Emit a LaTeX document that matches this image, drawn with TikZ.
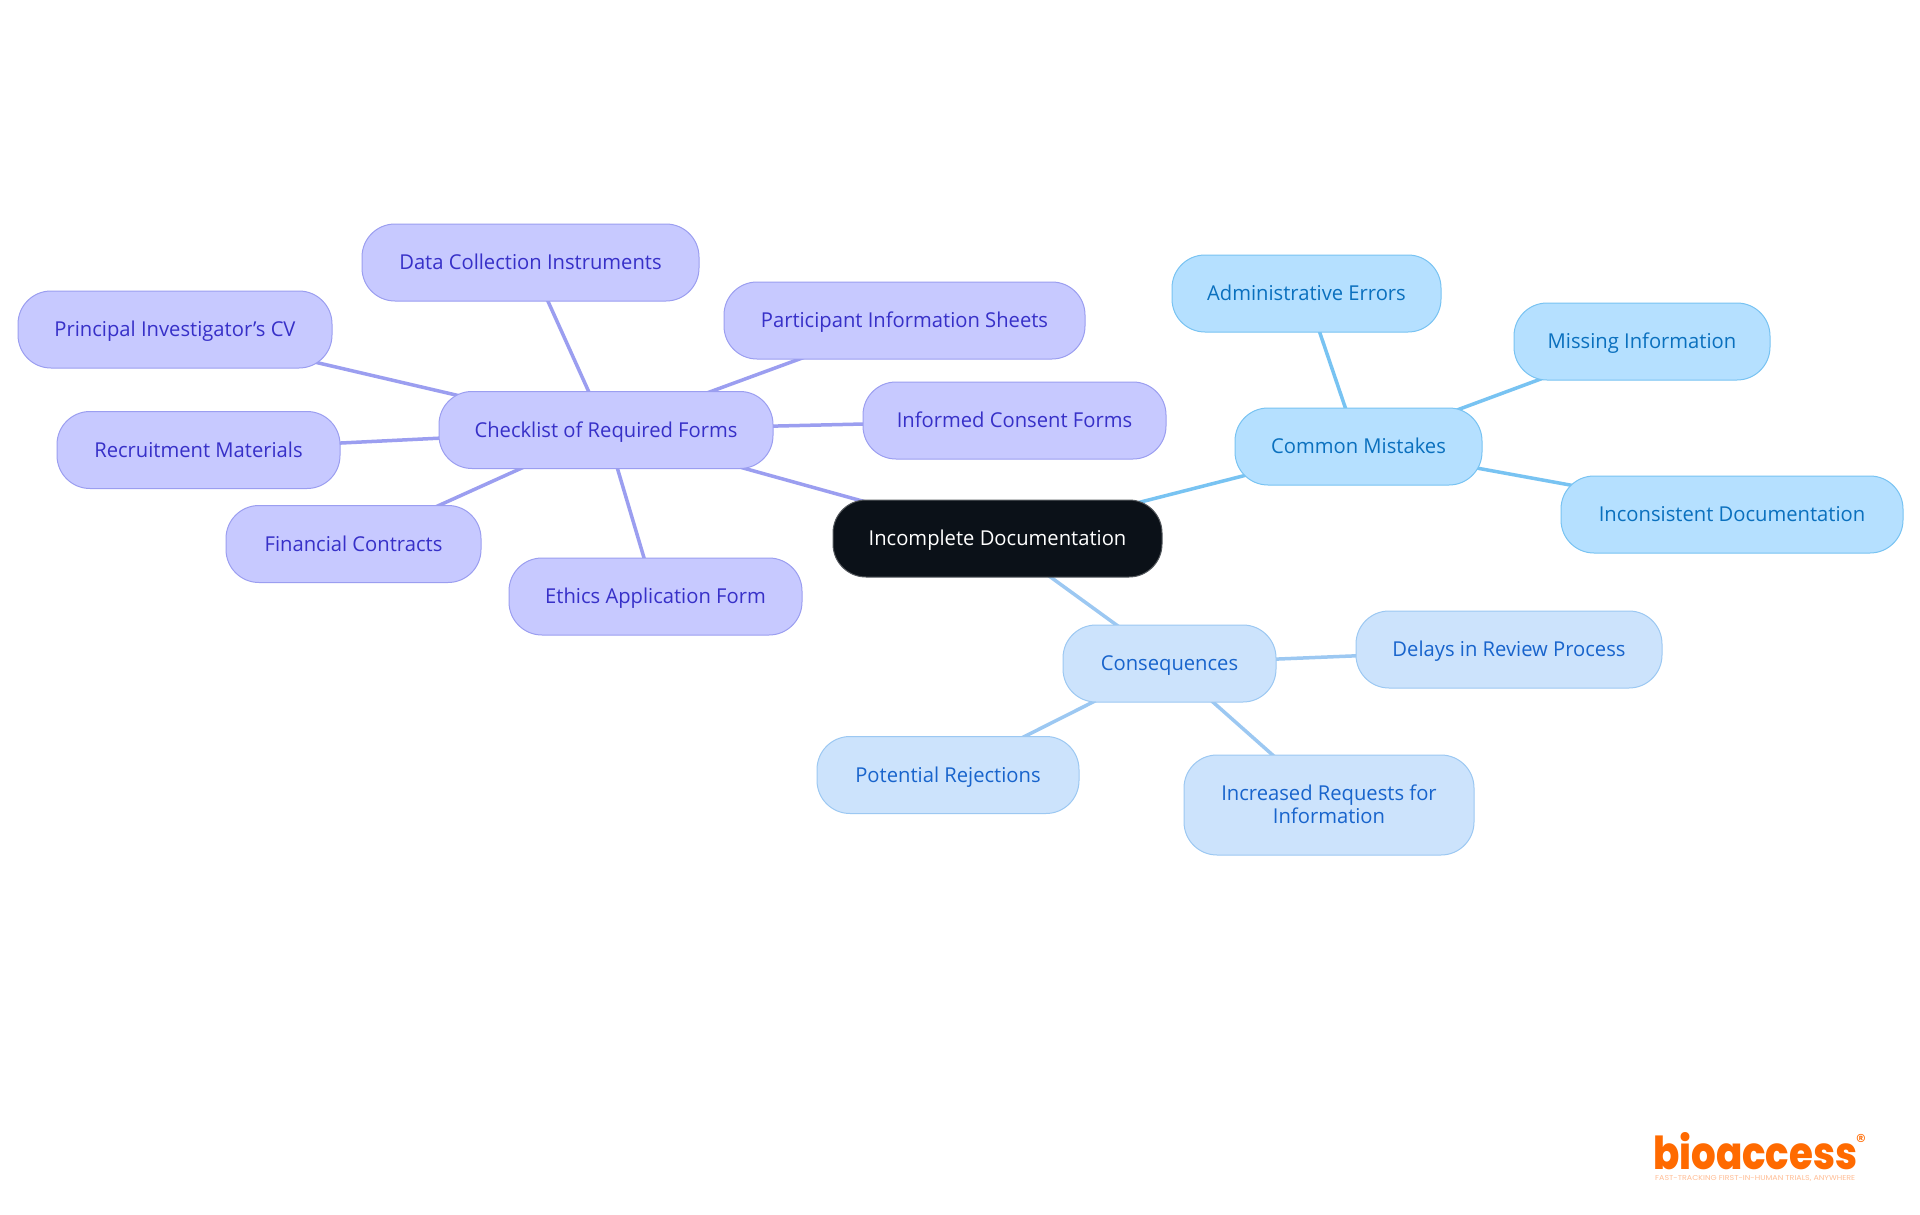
\documentclass[tikz,border=0pt]{standalone}
\usepackage{fontspec}
\setmainfont[FakeStretch=0.985]{Open Sans}
\newfontfamily\logofont[UprightFont={* ExtraBold}]{Poppins}
\newfontfamily\tagfont{Poppins}
\usetikzlibrary{backgrounds}
\definecolor{pfill}{RGB}{199,201,255}
\definecolor{pline}{RGB}{155,158,240}
\definecolor{ptext}{RGB}{55,48,200}
\definecolor{bfill}{RGB}{181,224,255}
\definecolor{bline}{RGB}{120,195,242}
\definecolor{btext}{RGB}{10,112,190}
\definecolor{lfill}{RGB}{204,227,252}
\definecolor{lline}{RGB}{156,200,242}
\definecolor{ltext}{RGB}{24,100,204}
\definecolor{rootfill}{RGB}{11,17,24}
\definecolor{logoorange}{RGB}{255,106,0}
\definecolor{logolight}{RGB}{255,190,150}
\tikzset{
  x=1pt,y=-1pt,
  box/.style={draw,line width=1pt,rounded corners=33pt,inner sep=0pt,align=center,
    font=\fontsize{20.5pt}{23.5pt}\selectfont},
  oneline/.style={text height=19pt,text depth=5pt},
  purplebox/.style={box,oneline,fill=pfill,draw=pline,text=ptext},
  bluebox/.style={box,oneline,fill=bfill,draw=bline,text=btext},
  lightbox/.style={box,oneline,fill=lfill,draw=lline,text=ltext},
  twolinebox/.style={box,fill=lfill,draw=lline,text=ltext},
  rootbox/.style={box,oneline,fill=rootfill,draw=rootfill!70!white,text=white},
  purplelink/.style={draw=pline,line width=3.5pt},
  bluelink/.style={draw=bline,line width=3.5pt},
  lightlink/.style={draw=lline,line width=3.5pt},
}
\begin{document}
\begin{tikzpicture}
\useasboundingbox (0,0) rectangle (1920,1215);

\node[rootbox,minimum width=329pt,minimum height=77pt] (root) at (997.5,538.5) {Incomplete Documentation};

\node[purplebox,minimum width=334pt,minimum height=77pt] (check) at (606,430) {Checklist of Required Forms};
\node[purplebox,minimum width=337pt,minimum height=77pt] (data) at (530.5,262.5) {Data Collection Instruments};
\node[purplebox,minimum width=361pt,minimum height=77pt] (part) at (904.5,320.5) {Participant Information Sheets};
\node[purplebox,minimum width=303pt,minimum height=77pt] (cons) at (1014.5,420.5) {Informed Consent Forms};
\node[purplebox,minimum width=314pt,minimum height=77pt] (pi) at (175,329.5) {Principal Investigator's CV};
\node[purplebox,minimum width=283pt,minimum height=77pt] (recr) at (198.5,450) {Recruitment Materials};
\node[purplebox,minimum width=255pt,minimum height=77pt] (fin) at (353.5,544) {Financial Contracts};
\node[purplebox,minimum width=293pt,minimum height=77pt] (eth) at (655.5,596.5) {Ethics Application Form};

\node[bluebox,minimum width=247pt,minimum height=77pt] (common) at (1358.5,446.5) {Common Mistakes};
\node[bluebox,minimum width=269pt,minimum height=77pt] (admin) at (1306.5,293.5) {Administrative Errors};
\node[bluebox,minimum width=256pt,minimum height=77pt] (miss) at (1642,341.5) {Missing Information};
\node[bluebox,minimum width=342pt,minimum height=77pt] (incons) at (1732,514.5) {Inconsistent Documentation};

\node[lightbox,minimum width=213pt,minimum height=77pt] (conseq) at (1169.5,663.5) {Consequences};
\node[lightbox,minimum width=306pt,minimum height=77pt] (delay) at (1509,649.5) {Delays in Review Process};
\node[lightbox,minimum width=262pt,minimum height=77pt] (rej) at (948,775) {Potential Rejections};
\node[twolinebox,minimum width=290pt,minimum height=100pt] (req) at (1329,805) {Increased Requests for\\Information\rule[-2pt]{0pt}{0pt}};

\begin{scope}[on background layer]
  \fill[white] (0,0) rectangle (1920,1215);
  \draw[purplelink] (root.center) -- (check.center);
  \draw[bluelink] (root.center) -- (common.center);
  \draw[lightlink] (root.center) -- (conseq.center);
  \draw[purplelink] (check.center) -- (data.center);
  \draw[purplelink] (check.center) -- (part.center);
  \draw[purplelink] (check.center) -- (cons.center);
  \draw[purplelink] (check.center) -- (pi.center);
  \draw[purplelink] (check.center) -- (recr.center);
  \draw[purplelink] (check.center) -- (fin.center);
  \draw[purplelink] (check.center) -- (eth.center);
  \draw[bluelink] (common.center) -- (admin.center);
  \draw[bluelink] (common.center) -- (miss.center);
  \draw[bluelink] (common.center) -- (incons.center);
  \draw[lightlink] (conseq.center) -- (delay.center);
  \draw[lightlink] (conseq.center) -- (rej.center);
  \draw[lightlink] (conseq.center) -- (req.center);
\end{scope}

\node[anchor=base west,inner sep=0pt,text=logoorange] (logo) at (1653,1169)
  {\logofont\resizebox{204pt}{37pt}{bioaccess}};
\node[anchor=center,inner sep=0pt,text=logoorange,font=\tagfont\fontsize{20pt}{20pt}\selectfont] (reg) at (1861,1141) {®};
\node[anchor=base west,inner sep=0pt,text=logolight] (tag) at (1655,1180)
  {\resizebox{200pt}{5pt}{\tagfont FAST-TRACKING FIRST-IN-HUMAN TRIALS, ANYWHERE}};
\end{tikzpicture}
\end{document}
